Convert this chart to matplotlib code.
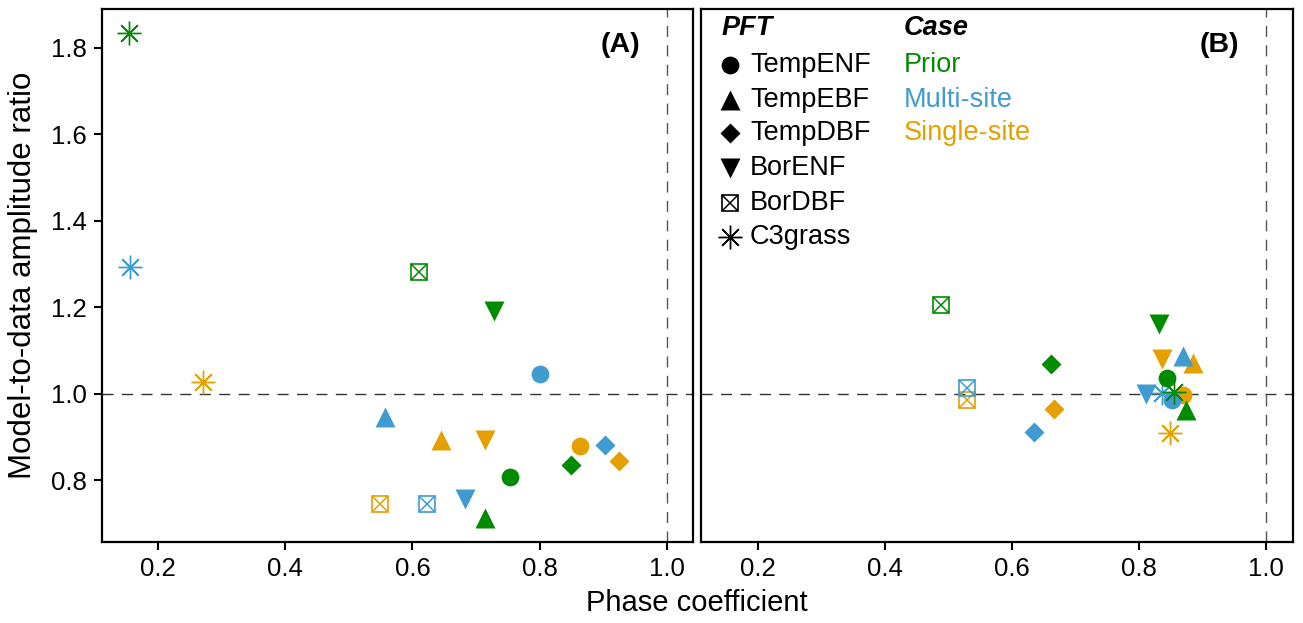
import matplotlib.pyplot as plt

plt.rcParams["font.family"] = ["Liberation Sans", "DejaVu Sans"]

# --- data ---
pfts = ["TempENF", "TempEBF", "TempDBF", "BorENF", "BorDBF", "C3grass"]
cases = ["Prior", "Multi-site", "Single-site"]

# panel A: phase coefficient / amplitude ratio, one value per PFT
prior_a_phase = [0.753, 0.714, 0.849, 0.728, 0.610, 0.154]
prior_a_amp = [0.807, 0.712, 0.834, 1.192, 1.282, 1.834]
multi_a_phase = [0.801, 0.557, 0.903, 0.682, 0.623, 0.155]
multi_a_amp = [1.045, 0.945, 0.881, 0.756, 0.744, 1.292]
single_a_phase = [0.863, 0.645, 0.925, 0.714, 0.549, 0.270]
single_a_amp = [0.878, 0.893, 0.845, 0.893, 0.745, 1.028]

# panel B
prior_b_phase = [0.844, 0.874, 0.662, 0.832, 0.488, 0.855]
prior_b_amp = [1.035, 0.961, 1.069, 1.162, 1.206, 1.004]
multi_b_phase = [0.853, 0.870, 0.635, 0.811, 0.530, 0.836]
multi_b_amp = [0.986, 1.086, 0.911, 0.998, 1.012, 1.001]
single_b_phase = [0.870, 0.885, 0.666, 0.837, 0.529, 0.849]
single_b_amp = [0.996, 1.071, 0.965, 1.081, 0.985, 0.910]

xticks = [0.2, 0.4, 0.6, 0.8, 1.0]
yticks = [0.8, 1.0, 1.2, 1.4, 1.6, 1.8]

colors = {"Prior": "#008B00", "Multi-site": "#3F9BD0", "Single-site": "#E5A000"}

# marker style per PFT: (marker, size, filled)
styles = {
    "TempENF": ("o", 12.8, True),
    "TempEBF": ("^", 13.8, True),
    "TempDBF": ("D", 10.6, True),
    "BorENF": ("v", 15, True),
    "BorDBF": ("s", 12, False),
    "C3grass": ((8, 2, 0), 17, False),
}


def draw_marker(ax, x, y, pft, color, **kw):
    m, ms, filled = styles[pft]
    if pft == "BorDBF":
        ax.plot(x, y, marker="s", ms=ms, mfc="none", mec=color, mew=1.2, ls="none", **kw)
        ax.plot(x, y, marker="x", ms=ms, mec=color, mew=1.1, ls="none", **kw)
    elif filled:
        ax.plot(x, y, marker=m, ms=ms, mfc=color, mec="none", ls="none", **kw)
    else:
        ax.plot(x, y, marker=m, ms=ms, mec=color, mew=1.0, ls="none", **kw)


fig = plt.figure(figsize=(13.03, 6.23), dpi=100)
ax_a = fig.add_axes([0.0781, 0.130, 0.4540, 0.8555])
ax_b = fig.add_axes([0.5380, 0.130, 0.4540, 0.8555])

panels = [
    (ax_a, [(single_a_phase, single_a_amp, "Single-site"),
            (multi_a_phase, multi_a_amp, "Multi-site"),
            (prior_a_phase, prior_a_amp, "Prior")], "(A)"),
    (ax_b, [(single_b_phase, single_b_amp, "Single-site"),
            (multi_b_phase, multi_b_amp, "Multi-site"),
            (prior_b_phase, prior_b_amp, "Prior")], "(B)"),
]

for ax, series, tag in panels:
    ax.axhline(1.0, color="#333333", lw=1.0, ls=(0, (8, 6)), zorder=1)
    ax.axvline(1.0, color="#555555", lw=1.0, ls=(0, (8, 6)), zorder=1)
    for xs, ys, case in series:
        for x, y, pft in zip(xs, ys, pfts):
            draw_marker(ax, x, y, pft, colors[case], zorder=3)
    ax.set_xlim(0.111, 1.042)
    ax.set_ylim(0.657, 1.889)
    ax.set_xticks(xticks)
    ax.set_xticklabels([f"{t:.1f}" for t in xticks])
    ax.set_yticks(yticks)
    ax.set_yticklabels([f"{t:.1f}" for t in yticks])
    ax.tick_params(labelsize=18.5, width=1.5, length=6, color="black", pad=5)
    for s in ax.spines.values():
        s.set_linewidth(1.6)
    ax.text(0.910, 0.932, tag, transform=ax.transAxes, ha="right", va="center",
            fontsize=20.5, fontweight="bold")

ax_b.tick_params(axis="y", left=False, labelleft=False)

fig.text(0.535, 0.032, "Phase coefficient", ha="center", va="center", fontsize=21)
fig.text(0.018, 0.558, "Model-to-data amplitude ratio", ha="center", va="center",
         rotation=90, fontsize=22.5)

# legend drawn by hand in panel B
row_y = [0.895, 0.829, 0.767, 0.702, 0.636, 0.572]
ax_b.text(0.0355, 0.964, "PFT", transform=ax_b.transAxes, ha="left", va="center",
          fontsize=19.5, fontweight="bold", style="italic")
ax_b.text(0.343, 0.964, "Case", transform=ax_b.transAxes, ha="left", va="center",
          fontsize=19.5, fontweight="bold", style="italic")
for pft, yy in zip(pfts, row_y):
    draw_marker(ax_b, 0.049, yy, pft, "black", transform=ax_b.transAxes, clip_on=False)
    ax_b.text(0.083, yy, pft, transform=ax_b.transAxes, ha="left", va="center", fontsize=19.5)
for case, yy in zip(cases, row_y):
    ax_b.text(0.343, yy, case, transform=ax_b.transAxes, ha="left", va="center",
              fontsize=19.5, color=colors[case])

fig.savefig("out.png", dpi=100)
